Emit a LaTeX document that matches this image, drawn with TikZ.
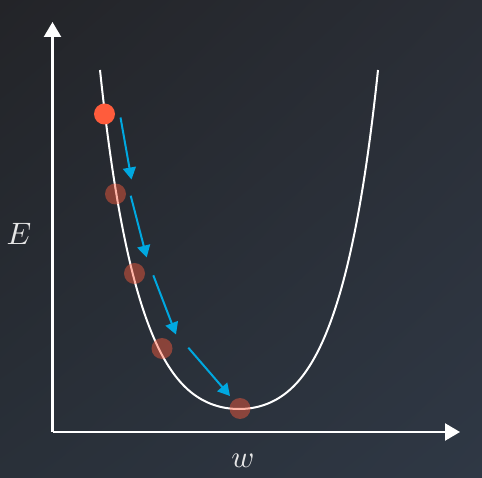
\documentclass[tikz,border=0pt]{standalone}
\usetikzlibrary{arrows.meta,shadings}
\definecolor{bgTL}{HTML}{232428}
\definecolor{bgTR}{HTML}{2A2E36}
\definecolor{bgBL}{HTML}{293039}
\definecolor{bgBR}{HTML}{2F3845}
\definecolor{dotred}{HTML}{FF5C3C}
\definecolor{stepblue}{HTML}{00A8E0}
\definecolor{labelgray}{HTML}{E6E6E6}
\tikzset{
  axisline/.style={white, line width=2.4pt, -{Triangle[length=15pt,width=17pt]}},
  curveline/.style={white, line width=2pt},
  stepline/.style={stepblue, line width=2pt, -{Triangle[length=12pt,width=13pt]}},
  firstdot/.style={circle, fill=dotred, minimum size=21pt, inner sep=0pt},
  pastdot/.style={circle, fill=dotred, fill opacity=0.45, minimum size=21pt, inner sep=0pt},
  axislabel/.style={text=labelgray, scale=3.1, inner sep=0pt}
}
\begin{document}
\begin{tikzpicture}[x=1pt,y=-1pt]
\useasboundingbox (0,0) rectangle (482,478);
\shade[upper left=bgTL, upper right=bgTR, lower left=bgBL, lower right=bgBR] (0,0) rectangle (482,478);
% axes
\coordinate (O) at (52.5,432);
\coordinate (Ytip) at (52.5,22);
\coordinate (Xtip) at (460,432);
\draw[axisline] (O) -- (Ytip);
\draw[axisline] (O) -- (Xtip);
% labels
\node[axislabel] (E) at (19,234) {$E$};
\node[axislabel] (w) at (243,461) {$w$};
% curve
\draw[curveline] plot[domain=-139:139, samples=201, smooth]
  ({239+\x},{409-339*(0.35*(\x/139)^2+0.55*(\x/139)^4+0.1*(\x/139)^10)});
% dots
\node[pastdot] (d2) at (115.5,194) {};
\node[pastdot] (d3) at (134.5,273.5) {};
\node[pastdot] (d4) at (162,348.5) {};
\node[pastdot] (d5) at (240,408.5) {};
\node[firstdot] (d1) at (104.5,114) {};
% step arrows
\coordinate (a1s) at (120.5,117.5);
\coordinate (a1e) at (131.5,179.5);
\coordinate (a2s) at (130.7,195.7);
\coordinate (a2e) at (146.7,257.5);
\coordinate (a3s) at (153.3,275.3);
\coordinate (a3e) at (176,334.5);
\coordinate (a4s) at (188.3,347.7);
\coordinate (a4e) at (230,396);
\draw[stepline] (a1s) -- (a1e);
\draw[stepline] (a2s) -- (a2e);
\draw[stepline] (a3s) -- (a3e);
\draw[stepline] (a4s) -- (a4e);
\end{tikzpicture}
\end{document}
